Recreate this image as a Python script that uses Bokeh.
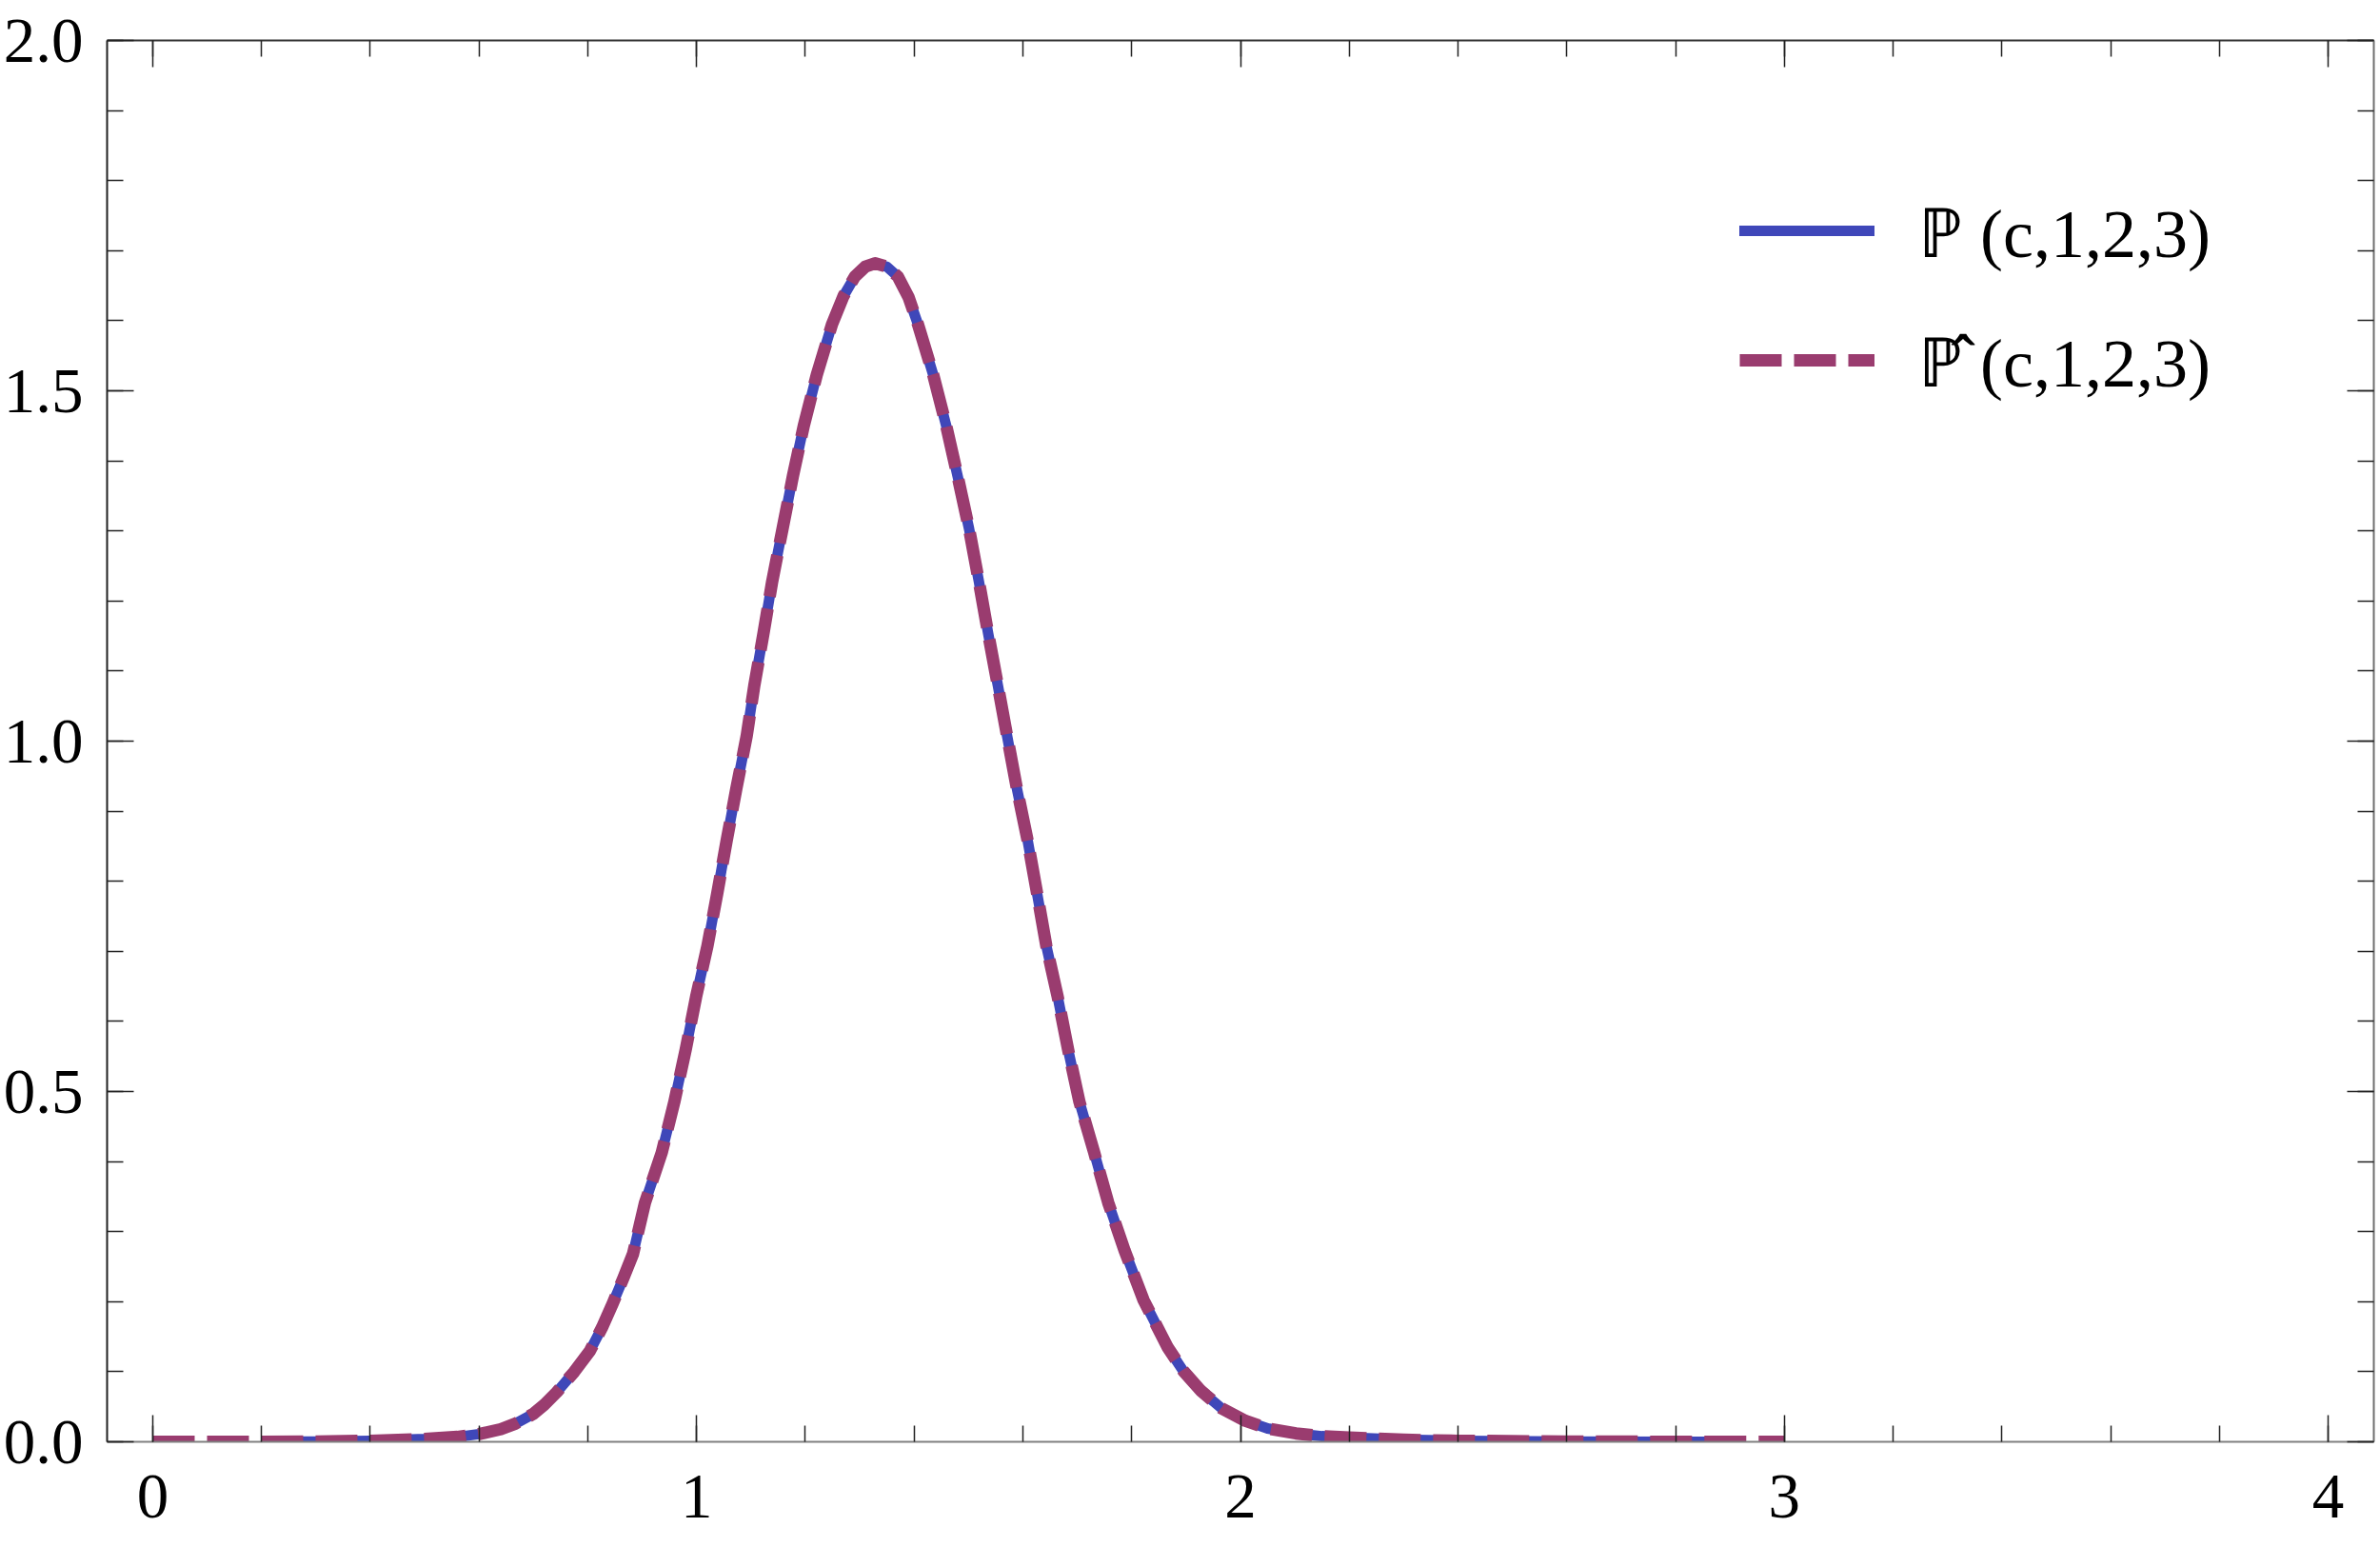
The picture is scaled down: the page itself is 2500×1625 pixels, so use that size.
from bokeh.plotting import figure
from bokeh.models import (Range1d, LinearAxis, FixedTicker, Legend, LegendItem,
                          NumeralTickFormatter, CustomJSTickFormatter)
from bokeh.embed import file_html
from bokeh.resources import INLINE

# ---- data ----
x_approx = [0.0, 0.1, 0.2, 0.3, 0.4, 0.5, 0.56, 0.60, 0.64, 0.667, 0.70, 0.72, 0.743, 0.775,
            0.804, 0.826, 0.846, 0.865, 0.883, 0.905, 0.936, 0.959, 0.980, 0.999, 1.020,
            1.038, 1.055, 1.073, 1.092, 1.106, 1.123, 1.139, 1.158, 1.177, 1.197, 1.221,
            1.249, 1.270, 1.291, 1.310, 1.328, 1.350, 1.370, 1.390, 1.407, 1.435, 1.459,
            1.480, 1.501, 1.519, 1.536, 1.554, 1.571, 1.589, 1.609, 1.626, 1.643, 1.664,
            1.683, 1.704, 1.731, 1.757, 1.787, 1.822, 1.866, 1.895, 1.927, 1.965, 2.009,
            2.050, 2.102, 2.150, 2.200, 2.300, 2.400, 2.600, 2.800, 3.000]
p_approx = [0.0, 0.0, 0.0, 0.0005, 0.0015, 0.004, 0.007, 0.011, 0.018, 0.026, 0.040, 0.053, 0.071, 0.100,
            0.130, 0.163, 0.198, 0.233, 0.268, 0.341, 0.413, 0.485, 0.560, 0.635, 0.708,
            0.783, 0.857, 0.932, 1.007, 1.079, 1.154, 1.228, 1.303, 1.378, 1.450, 1.523,
            1.595, 1.635, 1.663, 1.677, 1.682, 1.677, 1.663, 1.633, 1.595, 1.523, 1.450,
            1.378, 1.303, 1.228, 1.154, 1.079, 1.007, 0.932, 0.857, 0.783, 0.708, 0.635,
            0.560, 0.485, 0.413, 0.341, 0.273, 0.202, 0.135, 0.101, 0.073, 0.048, 0.030,
            0.019, 0.012, 0.008, 0.006, 0.003, 0.0015, 0.0005, 0.0, 0.0]

x_exact = [0.25, 0.3, 0.4, 0.5, 0.56, 0.60, 0.64, 0.667, 0.70, 0.72, 0.743, 0.775,
           0.804, 0.826, 0.846, 0.865, 0.883, 0.905, 0.936, 0.959, 0.980, 0.999, 1.020,
           1.038, 1.055, 1.073, 1.092, 1.106, 1.123, 1.139, 1.158, 1.177, 1.197, 1.221,
           1.249, 1.270, 1.291, 1.310, 1.328, 1.350, 1.370, 1.390, 1.407, 1.435, 1.459,
           1.480, 1.501, 1.519, 1.536, 1.554, 1.571, 1.589, 1.609, 1.626, 1.643, 1.664,
           1.683, 1.704, 1.731, 1.757, 1.787, 1.822, 1.866, 1.895, 1.927, 1.965, 2.009,
           2.050, 2.102, 2.150, 2.200, 2.300, 2.400, 2.600, 2.800, 2.900]
p_exact = [0.0002, 0.0005, 0.0015, 0.004, 0.007, 0.011, 0.018, 0.026, 0.040, 0.053, 0.071, 0.100,
           0.130, 0.163, 0.198, 0.233, 0.268, 0.341, 0.413, 0.485, 0.560, 0.635, 0.708,
           0.783, 0.857, 0.932, 1.007, 1.079, 1.154, 1.228, 1.303, 1.378, 1.450, 1.523,
           1.595, 1.635, 1.663, 1.677, 1.682, 1.677, 1.663, 1.633, 1.595, 1.523, 1.450,
           1.378, 1.303, 1.228, 1.154, 1.079, 1.007, 0.932, 0.857, 0.783, 0.708, 0.635,
           0.560, 0.485, 0.413, 0.341, 0.273, 0.202, 0.135, 0.101, 0.073, 0.048, 0.030,
           0.019, 0.012, 0.008, 0.006, 0.003, 0.0015, 0.0005, 0.0, 0.0]

x_ticks = [0, 1, 2, 3, 4]
x_minor_ticks = [i / 5 for i in range(21)]
y_ticks = [0.0, 0.5, 1.0, 1.5, 2.0]
y_minor_ticks = [i / 10 for i in range(21)]
legend_labels = ["\u2119 (c,1,2,3)", "\u2119\u0302 (c,1,2,3)"]

FONT = "Liberation Serif"
BLUE = "#3F47B9"
MAROON = "#9A3C6F"

p = figure(width=2500, height=1625, output_backend="svg", toolbar_location=None,
           x_range=Range1d(-0.084, 4.084), y_range=Range1d(0, 2),
           x_axis_location=None, y_axis_location=None,
           min_border_left=111, min_border_right=7, min_border_top=42, min_border_bottom=111)
p.outline_line_color = None
p.xgrid.visible = False
p.ygrid.visible = False
p.background_fill_color = "white"
p.border_fill_color = "white"


def style_axis(ax, ticks, minor, line_color, labels):
    ax.ticker = FixedTicker(ticks=ticks, minor_ticks=minor)
    ax.major_tick_in = 28
    ax.major_tick_out = 0
    ax.minor_tick_in = 17
    ax.minor_tick_out = 0
    ax.major_tick_line_color = "#222222"
    ax.minor_tick_line_color = "#222222"
    ax.major_tick_line_width = 1.5
    ax.minor_tick_line_width = 1.5
    ax.axis_line_color = line_color
    ax.axis_line_width = 2
    if labels:
        ax.major_label_text_font = FONT
        ax.major_label_text_font_size = "67px"
        ax.major_label_text_color = "black"
    else:
        ax.formatter = CustomJSTickFormatter(code="return ''")
        ax.major_label_text_font_size = "1px"
        ax.major_label_standoff = 0


bottom = LinearAxis()
style_axis(bottom, x_ticks, x_minor_ticks, "#808080", True)
bottom.major_label_standoff = 35
p.add_layout(bottom, "below")

left = LinearAxis(formatter=NumeralTickFormatter(format="0.0"))
style_axis(left, y_ticks, y_minor_ticks, "#222222", True)
left.major_label_standoff = 25
p.add_layout(left, "left")

top = LinearAxis()
style_axis(top, x_ticks, x_minor_ticks, "#333333", False)
p.add_layout(top, "above")

right = LinearAxis()
style_axis(right, y_ticks, y_minor_ticks, "#707070", False)
p.add_layout(right, "right")

r_exact = p.line(x_exact, p_exact, line_color=BLUE, line_width=11,
                 line_cap="round", line_join="round")
r_approx = p.line(x_approx, p_approx, line_color=MAROON, line_width=13,
                  line_dash="44 13", line_cap="butt", line_join="round")

legend = Legend(items=[LegendItem(label=legend_labels[0], renderers=[r_exact]),
                       LegendItem(label=legend_labels[1], renderers=[r_approx])],
                location=(1715, 1081))
legend.label_text_font = FONT
legend.label_text_font_size = "72px"
legend.label_text_color = "black"
legend.glyph_width = 142
legend.glyph_height = 110
legend.label_height = 110
legend.spacing = 26
legend.label_standoff = 46
legend.padding = 0
legend.margin = 0
legend.border_line_alpha = 0
legend.background_fill_alpha = 0
p.add_layout(legend)

open("out.html", "w").write(file_html(p, INLINE))
